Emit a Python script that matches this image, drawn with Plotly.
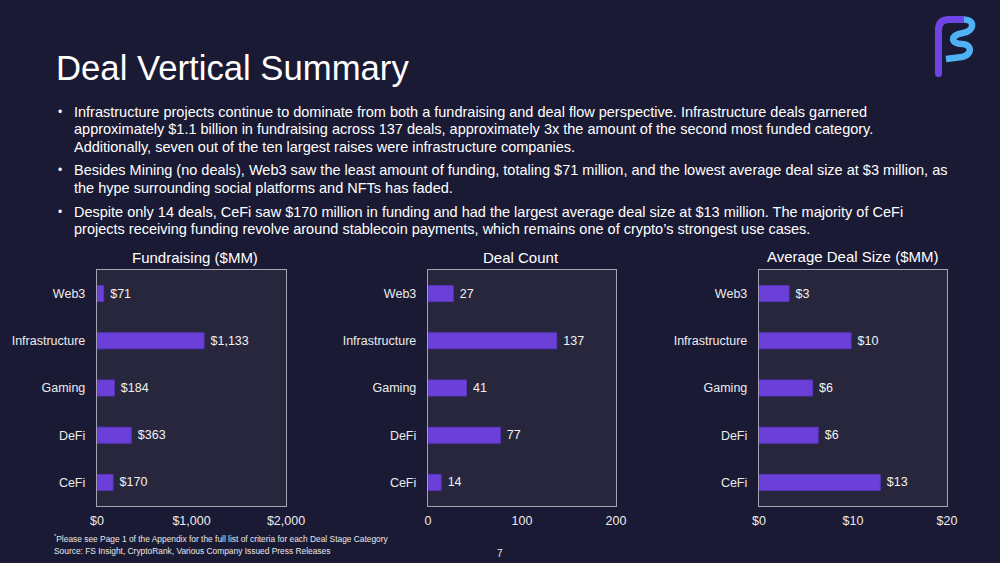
import plotly.graph_objects as go

# ---------------- data ----------------
categories = ["CeFi", "DeFi", "Gaming", "Infrastructure", "Web3"]  # bottom -> top
fundraising = [170, 363, 184, 1133, 71]
deal_count = [14, 77, 41, 137, 27]
avg_deal_size = [13, 6, 6, 10, 3]
avg_deal_size_raw = [12.9, 6.3, 5.7, 9.8, 3.2]  # bar lengths

panel_titles = ["Fundraising ($MM)", "Deal Count", "Average Deal Size ($MM)"]
title_text = "Deal Vertical Summary"
bullets = [
    ["Infrastructure projects continue to dominate from both a fundraising and deal flow perspective. Infrastructure deals garnered",
     "approximately $1.1 billion in fundraising across 137 deals, approximately 3x the amount of the second most funded category.",
     "Additionally, seven out of the ten largest raises were infrastructure companies."],
    ["Besides Mining (no deals), Web3 saw the least amount of funding, totaling $71 million, and the lowest average deal size at $3 million, as",
     "the hype surrounding social platforms and NFTs has faded."],
    ["Despite only 14 deals, CeFi saw $170 million in funding and had the largest average deal size at $13 million. The majority of CeFi",
     "projects receiving funding revolve around stablecoin payments, which remains one of crypto\u2019s strongest use cases."],
]
footnote = "<sup>*</sup>Please see Page 1 of the Appendix for the full list of criteria for each Deal Stage Category"
source = "Source: FS Insight, CryptoRank, Various Company Issued Press Releases"
page_no = "7"

# ---------------- style ----------------
W, H = 1000, 563
BG = "#1b1a35"
PLOT_BG = "#27263d"
BAR = "#6a40d9"
BAR_LINE = "#5a34c0"
FONT = "Liberation Sans, Arial, sans-serif"
NB = "\u00a0"

def px(x):
    return x / W

def py(y):
    return 1 - y / H

fig = go.Figure()

panels = [
    dict(vals=fundraising, text=[NB + "$" + f"{v:,}" for v in fundraising], rng=[0, 2000], dtick=1000, prefix="$", x0=97, x1=286, tx=195, ty=257),
    dict(vals=deal_count, text=[NB + f"{v}" for v in deal_count], rng=[0, 200], dtick=100, prefix="", x0=428, x1=616, tx=521, ty=258),
    dict(vals=avg_deal_size_raw, text=[NB + "$" + f"{v}" for v in avg_deal_size], rng=[0, 20], dtick=10, prefix="$", x0=759, x1=947, tx=852, ty=256),
]

y_top, y_bot = 270, 506
layout_axes = {}
for i, p in enumerate(panels):
    n = "" if i == 0 else str(i + 1)
    fig.add_trace(go.Bar(
        x=p["vals"], y=categories, orientation="h",
        marker=dict(color=BAR, line=dict(color=BAR_LINE, width=1)),
        width=0.34,
        text=p["text"], textposition="outside", cliponaxis=False,
        textfont=dict(color="#f2f2f2", size=12.5, family=FONT),
        xaxis="x" + n, yaxis="y" + n, hoverinfo="skip", showlegend=False,
    ))
    layout_axes["xaxis" + n] = dict(
        domain=[px(p["x0"]), px(p["x1"])], range=p["rng"], dtick=p["dtick"],
        tickprefix=p["prefix"], tickformat=",", showgrid=False, zeroline=False,
        showline=True, mirror=True, linecolor="#a4a4b0", linewidth=1.2,
        ticks="", ticklabelstandoff=3, automargin=False,
        tickfont=dict(color="#ececec", size=12.5, family=FONT),
        anchor="y" + n, fixedrange=True,
    )
    layout_axes["yaxis" + n] = dict(
        domain=[py(y_bot), py(y_top)], type="category",
        categoryorder="array", categoryarray=categories,
        showgrid=False, zeroline=False, showline=True, mirror=True,
        linecolor="#a4a4b0", linewidth=1.2, ticks="", ticklabelstandoff=8, automargin=False,
        tickfont=dict(color="#ececec", size=12.5, family=FONT),
        anchor="x" + n, fixedrange=True,
    )

annotations = []
for i, p in enumerate(panels):
    annotations.append(dict(x=px(p["tx"]), y=py(p["ty"]), xref="paper", yref="paper",
                            text=panel_titles[i], showarrow=False, xanchor="center", yanchor="middle",
                            font=dict(color="#ffffff", size=15, family=FONT)))

annotations.append(dict(x=px(54), y=py(68), xref="paper", yref="paper", text=title_text,
                        showarrow=False, xanchor="left", yanchor="middle",
                        font=dict(color="#ffffff", size=34.7, family=FONT)))

line_ys = [[111.5, 129.3, 147], [170, 187.7], [211.7, 229.3]]
for b, lines in enumerate(bullets):
    annotations.append(dict(x=px(60), y=py(line_ys[b][0]), xref="paper", yref="paper", text="\u2022",
                            showarrow=False, xanchor="center", yanchor="middle",
                            font=dict(color="#ffffff", size=12, family=FONT)))
    for j, ln in enumerate(lines):
        annotations.append(dict(x=px(72), y=py(line_ys[b][j]), xref="paper", yref="paper", text=ln,
                                showarrow=False, xanchor="left", yanchor="middle",
                                font=dict(color="#ffffff", size=14.5, family=FONT)))

annotations.append(dict(x=px(52), y=py(538), xref="paper", yref="paper", text=footnote,
                        showarrow=False, xanchor="left", yanchor="middle",
                        font=dict(color="#e8e8e8", size=8.4, family=FONT)))
annotations.append(dict(x=px(52), y=py(551), xref="paper", yref="paper", text=source,
                        showarrow=False, xanchor="left", yanchor="middle",
                        font=dict(color="#e8e8e8", size=8.4, family=FONT)))
annotations.append(dict(x=px(500), y=py(553), xref="paper", yref="paper", text=page_no,
                        showarrow=False, xanchor="center", yanchor="middle",
                        font=dict(color="#e8e8e8", size=10, family=FONT)))

# ---------------- logo (approximate, drawn with paths) ----------------
def path_px(cmds):
    out = []
    for c in cmds:
        if isinstance(c, str):
            out.append(c)
        else:
            out.append(f"{px(c[0]):.5f},{py(c[1]):.5f}")
    return " ".join(out)

purple_path = path_px(["M", (938.5, 73.5), "L", (938.5, 30), "Q", (938.5, 19.5), (949, 19.5), "L", (964, 19.5)])
blue_path = path_px(["M", (964, 19.5), "C", (975, 19.5), (975, 31), (963, 33),
                     "C", (950, 35), (950, 44), (962, 44),
                     "C", (973, 44), (973, 57), (958, 57.5),
                     "L", (946, 59)])
shapes = [
    dict(type="path", path=purple_path, xref="paper", yref="paper",
         line=dict(color="#6f44e4", width=7)),
    dict(type="circle", xref="paper", yref="paper",
         x0=px(935), x1=px(942), y0=py(77), y1=py(70),
         fillcolor="#6f44e4", line=dict(width=0)),
    dict(type="path", path=blue_path, xref="paper", yref="paper",
         line=dict(color="#4fb2f4", width=6.5)),
]

fig.update_layout(
    width=W, height=H, autosize=False,
    margin=dict(l=0, r=0, t=0, b=0, pad=0, autoexpand=False),
    paper_bgcolor=BG, plot_bgcolor=PLOT_BG,
    annotations=annotations, shapes=shapes, bargap=0.66,
    font=dict(family=FONT, color="#ffffff"),
    **layout_axes,
)

fig.write_html(
    "out.html",
    config={"responsive": False, "displayModeBar": False, "staticPlot": True},
    post_script="document.body.style.margin='0';document.body.style.overflow='hidden';document.body.style.background='" + BG + "';",
)
